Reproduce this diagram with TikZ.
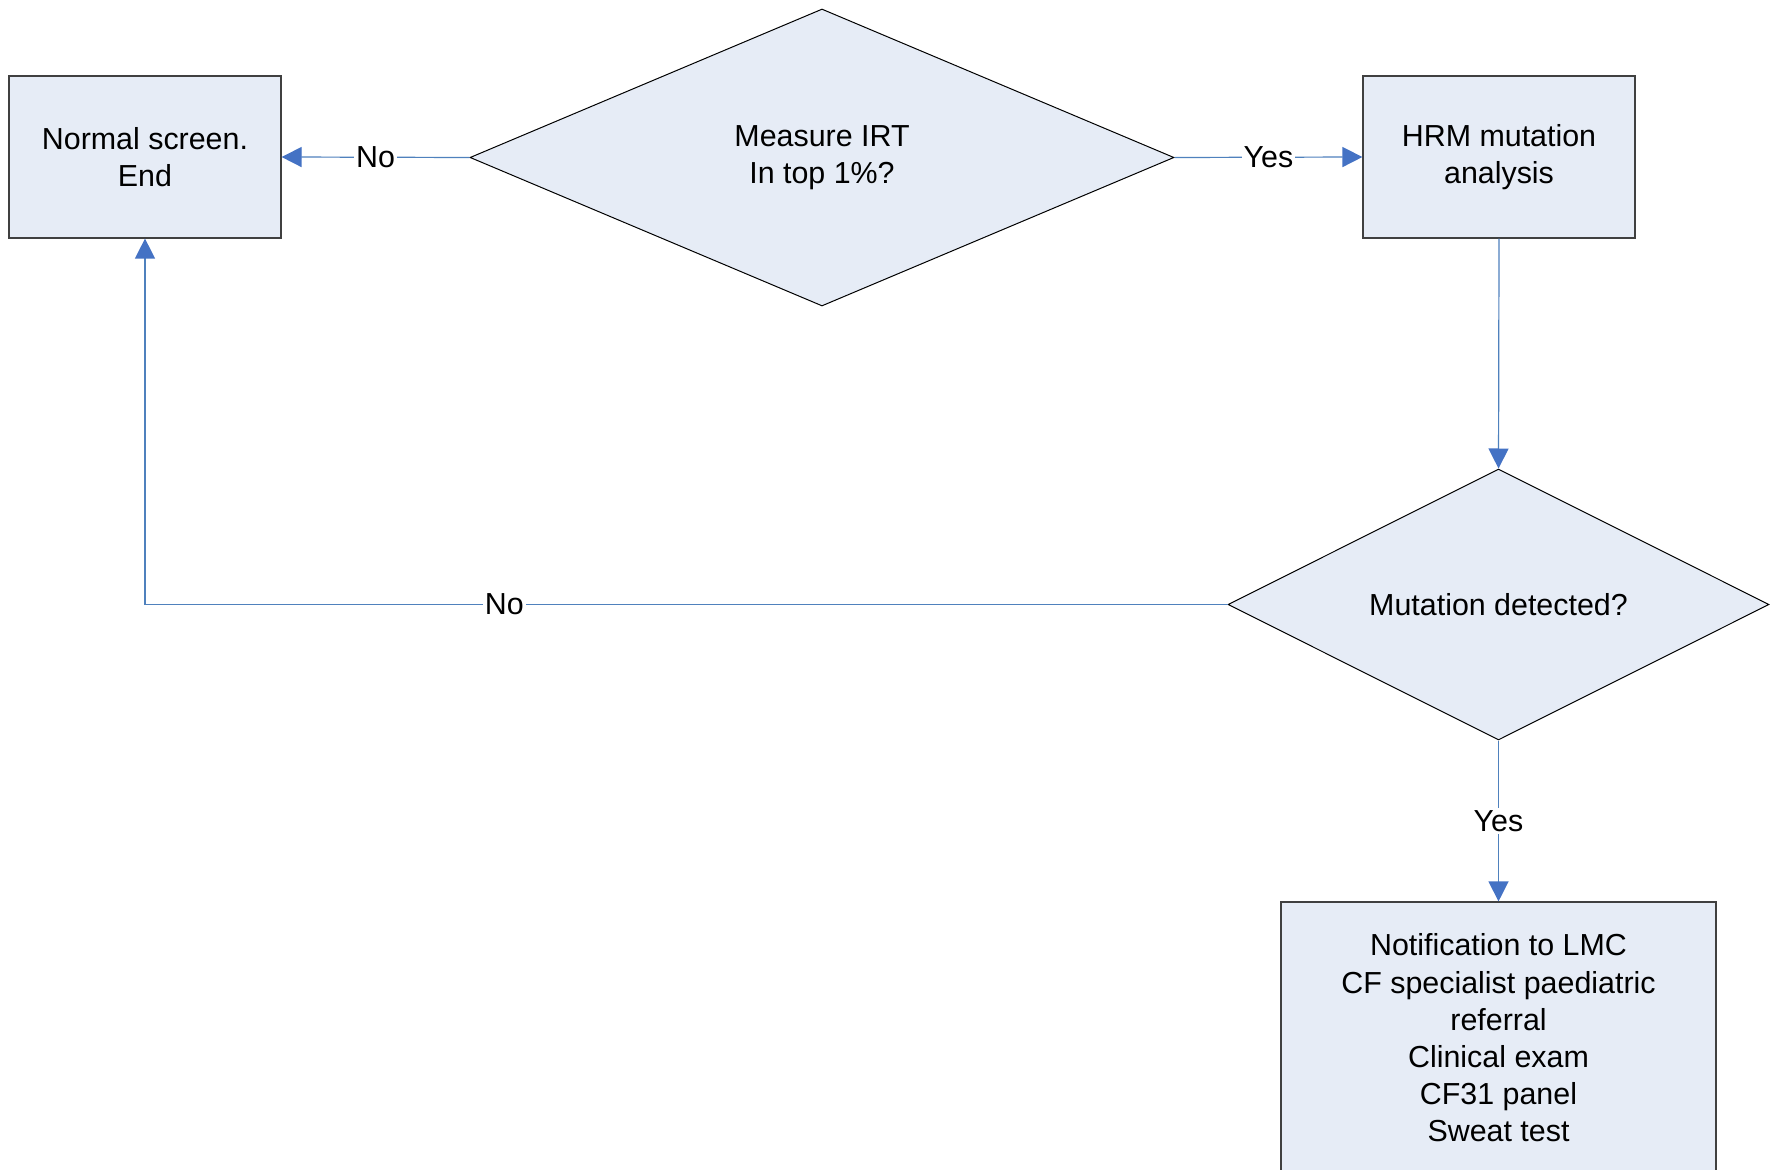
\documentclass[tikz,border=0pt]{standalone}
\usepackage{fontspec}
\setmainfont{Liberation Sans}
\usetikzlibrary{shapes.geometric,arrows.meta}
\definecolor{boxfill}{RGB}{230,236,246}
\definecolor{linkblue}{RGB}{79,129,189}
\definecolor{tipblue}{RGB}{68,114,196}
\definecolor{boxedge}{RGB}{64,64,64}
\tikzset{
  procbox/.style={rectangle,draw=boxedge,line width=0.6pt,fill=boxfill,align=center,inner sep=0pt},
  decision/.style={diamond,draw=black,line width=0.5pt,fill=boxfill,align=center,inner sep=0pt,aspect=2},
  link/.style={draw=linkblue,line width=0.6pt,-{Triangle[length=10pt,width=10pt,color=tipblue]}},
  lbl/.style={fill=white,inner sep=1pt,text=black}
}
\begin{document}
\begin{tikzpicture}[x=0.5pt,y=-0.5pt,font=\fontsize{15.2pt}{18.6pt}\selectfont]
\useasboundingbox[fill=white] (0,0) rectangle (1775,1170);
\node[procbox,minimum width=136pt,minimum height=81pt] (normal) at (145,157) {Normal screen.\\End};
\node[decision,minimum width=352pt,minimum height=148.5pt] (irt) at (822,157.5) {Measure IRT\\In top 1\%?};
\node[procbox,minimum width=136pt,minimum height=81pt] (hrm) at (1499,157) {HRM mutation\\analysis};
\node[decision,minimum width=270.5pt,minimum height=135.5pt] (mut) at (1498.5,604.5) {Mutation detected?};
\node[procbox,minimum width=217.5pt,minimum height=136pt] (notif) at (1498.5,1038) {Notification to LMC\\CF specialist paediatric\\referral\\Clinical exam\\CF31 panel\\Sweat test};
\draw[link] (irt.west) -- node[lbl] {No} (normal.east);
\draw[link] (irt.east) -- node[lbl] {Yes} (hrm.west);
\draw[link] (hrm.south) -- (mut.north);
\draw[link] (mut.west) -| node[lbl,pos=0.334] {No} (normal.south);
\draw[link] (mut.south) -- node[lbl] {Yes} (notif.north);
\end{tikzpicture}
\end{document}
